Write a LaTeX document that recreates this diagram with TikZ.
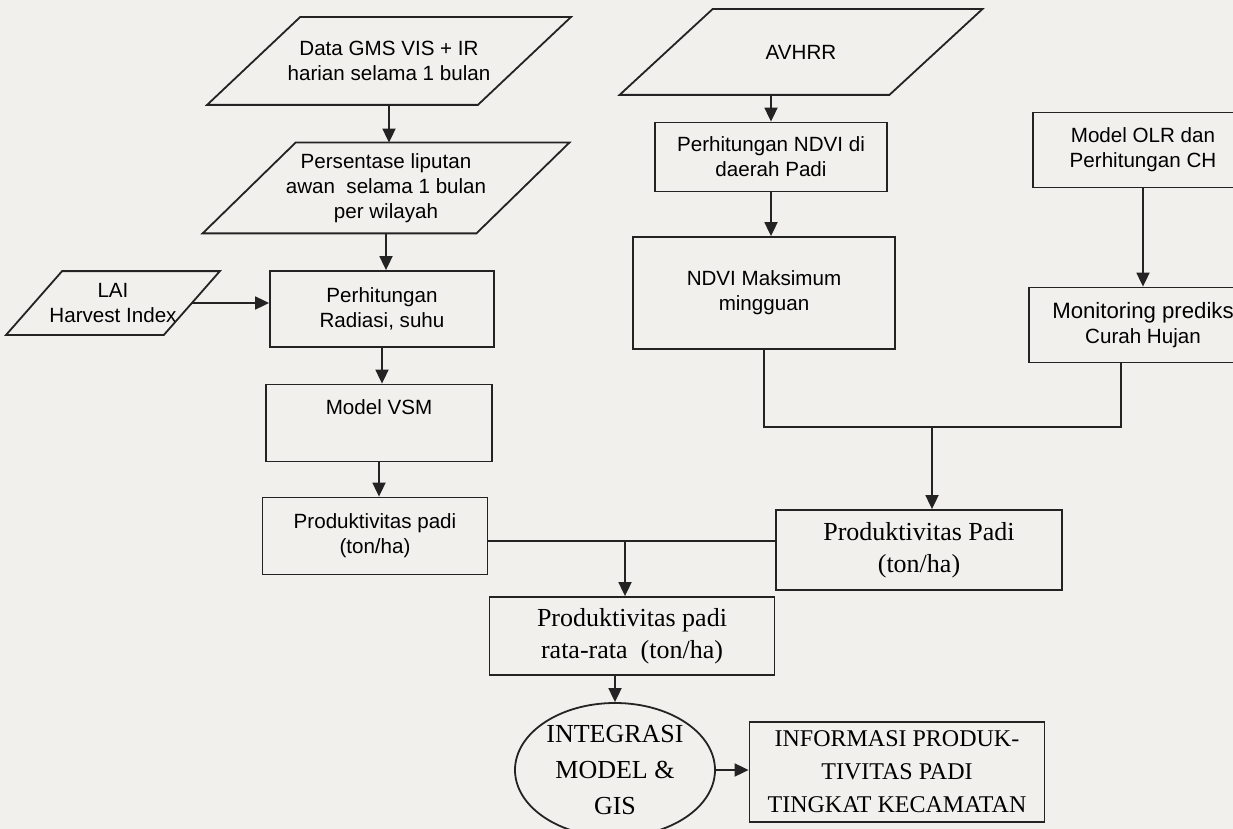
\documentclass[tikz,border=0pt]{standalone}
\usepackage{fontspec}
\setmainfont{Liberation Serif}
\setsansfont{Liberation Sans}
\usepackage{tikz}
\usetikzlibrary{shapes,arrows,arrows.meta}
\definecolor{paper}{RGB}{241,240,237}
\definecolor{ink}{RGB}{35,35,35}
% slanted input box round a node: #1 node, #2 half of the slant
\newcommand{\drawio}[2]{%
  \draw[draw=ink, line width=0.9pt] ([xshift=-#2]#1.south west) -- ([xshift=#2]#1.north west)
    -- ([xshift=#2]#1.north east) -- ([xshift=-#2]#1.south east) -- cycle;}

\begin{document}
\begin{tikzpicture}[x=0.5pt, y=-0.5pt, auto,
    block_sans/.style ={rectangle, draw=ink, line width=0.9pt, align=center,
      inner sep=2pt, font=\sffamily\fontsize{10.3}{12.5}\selectfont},
    block_serif/.style ={rectangle, draw=ink, line width=0.9pt, align=center,
      inner sep=2pt, font=\fontsize{13}{16}\selectfont},
    block_io/.style ={rectangle, draw=none, align=center,
      inner sep=0pt, font=\sffamily\fontsize{10.3}{12.5}\selectfont},
    block_round/.style ={ellipse, draw=ink, line width=0.9pt, align=center,
      inner sep=0pt, font=\fontsize{13}{18}\selectfont},
    line/.style ={draw=ink, line width=0.9pt, -{Triangle[length=7pt, width=6.5pt]}, shorten >=0pt}]
    % page
    \useasboundingbox (0,0) rectangle (1233,829);
    \fill[paper] (0,0) rectangle (1233,829);
    % left column - GMS
    \node [block_io, minimum width=135pt, minimum height=43.5pt] (gms) at (389,61) {
      Data GMS VIS + IR\\harian selama 1 bulan};
    \node [block_io, minimum width=136.5pt, minimum height=45pt] (persen) at (386,188) {
      Persentase liputan\\awan\ \ selama 1 bulan\\per wilayah};
    \node [block_io, minimum width=78.5pt, minimum height=31.5pt] (lai) at (113,303) {
      \makebox[0pt]{LAI}\\\makebox[0pt]{Harvest Index}};
    \drawio{gms}{23.25pt}
    \drawio{persen}{23.25pt}
    \drawio{lai}{14pt}
    \node [block_sans, minimum width=112pt, minimum height=38pt] (radiasi) at (382,309) {
      Perhitungan\\Radiasi, suhu};
    \node [block_sans, minimum width=113pt, minimum height=38.5pt] (vsm) at (379,423) {
      Model VSM\\ \strut};
    \node [block_sans, minimum width=112.5pt, minimum height=38.5pt] (prodvsm) at (375,536) {
      Produktivitas padi\\(ton/ha)};
    % middle column - AVHRR
    \node [block_io, minimum width=134.5pt, minimum height=42.5pt] (avhrr) at (801,52) {AVHRR};
    \drawio{avhrr}{23.25pt}
    \node [block_sans, minimum width=116pt, minimum height=34.5pt] (ndvi) at (771,157) {
      Perhitungan NDVI di\\daerah Padi};
    \node [block_sans, minimum width=131pt, minimum height=56pt] (maks) at (764,293) {
      NDVI Maksimum\\mingguan};
    % right column - OLR
    \node [block_sans, minimum width=110pt, minimum height=37.5pt] (olr) at (1143,150) {
      Model OLR dan\\Perhitungan CH};
    \node [block_sans, minimum width=114pt, minimum height=37.5pt] (monit) at (1143,325) {
      {\fontsize{11.1}{12.5}\selectfont Monitoring prediks}\\Curah Hujan};
    % bottom rows
    \node [block_serif, minimum width=143pt, minimum height=40pt] (prodndvi) at (919,550) {
      Produktivitas Padi\\(ton/ha)};
    \node [block_serif, minimum width=142.5pt, minimum height=39pt] (ratarata) at (632,636) {
      Produktivitas padi\\rata-rata\ \ (ton/ha)};
    \node [block_round, minimum width=100pt, minimum height=67pt] (integrasi) at (615,770) {
      INTEGRASI\\MODEL \&\\GIS};
    \node [block_serif, minimum width=147.5pt, minimum height=50pt,
      font=\fontsize{12}{16.5}\selectfont] (info) at (897,772) {
      INFORMASI PRODUK-\\TIVITAS PADI\\TINGKAT KECAMATAN};
    % junctions
    \coordinate (jr) at (1121,427);
    \coordinate (jp) at (932,427);
    \coordinate (jm) at (625,541);
    % connecting nodes with paths
    \begin{scope}[every path/.style=line]
      \path (gms.south) -- (gms.south |- persen.north);
      \path (persen.south) -- (persen.south |- radiasi.north);
      \path (lai.east) -- (lai.east -| radiasi.west);
      \path (radiasi) -- (radiasi |- vsm.north);
      \path (vsm) -- (vsm |- prodvsm.north);
      \path (avhrr.south -| ndvi.north) -- (ndvi.north);
      \path (ndvi.south) -- (ndvi.south |- maks.north);
      \path (olr) -- (monit);
      \path[-] (maks.south) |- (jr) -- (jr |- monit.south);
      \path (jp) -- (jp |- prodndvi.north);
      \path[-] (prodvsm.east |- jm) -- (jm -| prodndvi.west);
      \path (jm) -- (jm |- ratarata.north);
      \path (ratarata.south -| integrasi.north) -- (integrasi.north);
      \path (integrasi.east) -- (info.west |- integrasi.east);
    \end{scope}
\end{tikzpicture}
\end{document}
